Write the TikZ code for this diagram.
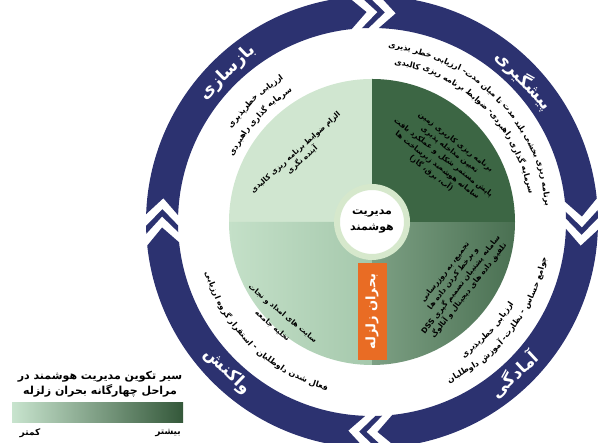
\documentclass[tikz,border=0pt]{standalone}
\usepackage{fontspec}
\TeXXeTstate=1
\newfontfamily\fa[Script=Arabic]{DejaVu Sans}
\usetikzlibrary{calc}
\definecolor{navy}{RGB}{44,50,112}
\definecolor{gTL}{RGB}{208,230,208}
\definecolor{gBLa}{RGB}{196,224,200}
\definecolor{gBLb}{RGB}{165,200,172}
\definecolor{gBRa}{RGB}{125,160,132}
\definecolor{gBRb}{RGB}{74,112,82}
\definecolor{gTR}{RGB}{60,102,68}
\definecolor{orng}{RGB}{233,108,36}
\definecolor{pale}{RGB}{214,232,204}
\definecolor{legL}{RGB}{200,228,206}
\definecolor{legM}{RGB}{160,195,168}
\definecolor{legR}{RGB}{52,88,58}
\newlength\wlen
\newlength\totw
\newlength\spcw
\setlength\spcw{2.8pt}
\newcommand\bt{\fa\bfseries\fontsize{8}{9}\selectfont}
% measure words (outside the picture)
\newcommand\measureline[3]{%
  \global\totw=0pt
  \foreach \wrd [count=\i] in #3 {%
    \settowidth\wlen{#2\wrd}%
    \expandafter\xdef\csname aw@#1@\i\endcsname{\the\wlen}%
    \global\advance\totw by \wlen
    \global\advance\totw by \spcw
  }%
  \global\advance\totw by -\spcw
  \expandafter\xdef\csname at@#1\endcsname{\the\totw}%
}
% place words along an arc, centred on an angle
\newcommand\arcline[6]{%
  \pgfmathsetmacro\startang{#2 - (#3)*(\csname at@#6\endcsname/2)/(#1)*180/pi}%
  \xdef\curang{\startang}%
  \foreach \wrd [count=\i] in #5 {%
    \edef\wwd{\csname aw@#6@\i\endcsname}%
    \pgfmathsetmacro\midang{\curang + (#3)*(\wwd/2)/(#1)*180/pi}%
    \pgfmathsetmacro\wrot{\midang - (#3)*90}%
    \node[inner sep=0pt, rotate=\wrot] (#6\i) at ($(C)+(\midang:#1pt)$) {#4\beginR\wrd\endR};
    \pgfmathsetmacro\nextang{\curang + (#3)*(\wwd+\spcw)/(#1)*180/pi}%
    \xdef\curang{\nextang}%
  }%
}
\newcommand\navyseg[2]{%
  \fill[navy] ($(C)+(#1:226pt)$) arc[start angle=#1,end angle=#2,radius=226pt]
    -- ($(C)+({#2-4.5}:210pt)$) -- ($(C)+(#2:194pt)$)
    arc[start angle=#2,end angle=#1,radius=194pt]
    -- ($(C)+({#1-4.5}:210pt)$) -- cycle;
}
\newcommand\chev[1]{%
  \fill[navy] ($(C)+({#1+3}:226pt)$) -- ($(C)+({#1-1.5}:210pt)$) -- ($(C)+({#1+3}:194pt)$)
    -- ($(C)+({#1+1}:194pt)$) -- ($(C)+({#1-3.5}:210pt)$) -- ($(C)+({#1+1}:226pt)$) -- cycle;
}
\newcommand\Ltro{برنامه,ریزی,بخشی,بلند,مدت,تا,میان,مدت-,ارزیابی,خطر,پذیری}
\newcommand\Ltri{سرمایه,گذاری,راهبردی-,ضوابط,برنامه,ریزی,کالبدی}
\newcommand\Ltlo{ارزیابی,خطرپذیری}
\newcommand\Ltli{سرمایه,گذاری,راهبردی}
\newcommand\Lblo{فعال,شدن,داوطلبان,-,استقرار,گروه,ارزیابی}
\newcommand\Lbro{جوامع,حساس,-,نظارت-,آموزش,داوطلبان}
\newcommand\Lbri{ارزیابی,خطرپذیری}
\begin{document}
\measureline{tro}{\bt}{\Ltro}%
\measureline{tri}{\bt}{\Ltri}%
\measureline{tlo}{\bt}{\Ltlo}%
\measureline{tli}{\bt}{\Ltli}%
\measureline{blo}{\bt}{\Lblo}%
\measureline{bro}{\bt}{\Lbro}%
\measureline{bri}{\bt}{\Lbri}%
\begin{tikzpicture}[x=1pt,y=1pt,
  qtext/.style={inner sep=0pt, align=center, font=\fa\bfseries\fontsize{7.4}{10}\selectfont},
  seglabel/.style={inner sep=0pt, text=white, font=\fa\bfseries\fontsize{17}{20}\selectfont},
  legtext/.style={inner sep=0pt, align=center, font=\fa\bfseries\fontsize{11}{15}\selectfont}]
\useasboundingbox (0,0) rectangle (603,443);
\clip (0,0) rectangle (603,443);
\coordinate (C) at (372,221);
% inner disk
\fill[gTL] (C) -- ($(C)+(90:143pt)$) arc[start angle=90,end angle=180,radius=143pt] -- cycle;
\shade[left color=gBLa,right color=gBLb] (C) -- ($(C)+(180:143pt)$) arc[start angle=180,end angle=270,radius=143pt] -- cycle;
\shade[left color=gBRa,right color=gBRb] (C) -- ($(C)+(270:143pt)$) arc[start angle=270,end angle=360,radius=143pt] -- cycle;
\fill[gTR] (C) -- ($(C)+(0:143pt)$) arc[start angle=0,end angle=90,radius=143pt] -- cycle;
% orange bar
\node[fill=orng, minimum width=97pt, minimum height=29pt, inner sep=0pt, rotate=90, text=white,
  font=\fa\bfseries\fontsize{13}{15}\selectfont] (crisis) at (372,131.5) {\beginR بحران زلزله\endR};
% hub
\node[circle, fill=white, draw=pale, line width=6pt, minimum size=70pt, inner sep=0pt, align=center,
  font=\fa\bfseries\fontsize{11}{16}\selectfont] (hub) at (C) {\beginR مدیریت\endR\\\beginR هوشمند\endR};
% quadrant texts
\node[qtext, rotate=42] (tl) at ($(C)+(138:98pt)$) {\beginR الزام ضوابط برنامه ریزی کالبدی\endR\\\beginR آینده نگری\endR};
\node[qtext, rotate=-38] (tr) at ($(C)+(42:96pt)$) {\beginR برنامه ریزی کاربری زمین\endR\\\beginR تعیین مداخله پذیری\endR\\\beginR پایش مستمر شکل و عملکرد بافت\endR\\\beginR سامانه هوشمند زیرساخت ها\endR\\\beginR (آب، برق، گاز)\endR};
\node[qtext, rotate=52] (br) at ($(C)+(-35:104pt)$) {\beginR تجمیع، به روزرسانی\endR\\\beginR و برخط کردن داده ها\endR\\\beginR سامانه پشتیبان تصمیم گیری \beginL DSS\endL\endR\\\beginR تلفیق داده های دیجیتال و آنالوگ\endR};
\node[qtext, rotate=-40, font=\fa\bfseries\fontsize{7.4}{16}\selectfont] (bl) at ($(C)+(226:136pt)$) {\beginR سایت های امداد و نجات\endR\\\beginR تخلیه جامعه\endR};
% band texts
\arcline{176}{45}{1}{\bt}{\Ltro}{tro}
\arcline{161}{46}{1}{\bt}{\Ltri}{tri}
\arcline{170}{134}{1}{\bt}{\Ltlo}{tlo}
\arcline{155}{138}{1}{\bt}{\Ltli}{tli}
\arcline{172}{226}{-1}{\bt}{\Lblo}{blo}
\arcline{176}{-38}{-1}{\bt}{\Lbro}{bro}
\arcline{161}{-43}{-1}{\bt}{\Lbri}{bri}
% navy ring
\navyseg{88}{6}
\navyseg{-2}{-84}
\navyseg{-92}{-174}
\navyseg{178}{96}
\chev{90}
\chev{0}
\chev{-90}
\chev{180}
\node[seglabel, rotate=44] (s1) at ($(C)+(134:208pt)$) {\beginR بازسازی\endR};
\node[seglabel, rotate=-47] (s2) at ($(C)+(43:208pt)$) {\beginR پیشگیری\endR};
\node[seglabel, rotate=43] (s3) at ($(C)+(-47:208pt)$) {\beginR آمادگی\endR};
\node[seglabel, rotate=-44] (s4) at ($(C)+(-134:208pt)$) {\beginR واکنش\endR};
% legend
\node[legtext] (lt) at (100,59) {\beginR سیر تکوین مدیریت هوشمند در\endR\\\beginR مراحل چهارگانه بحران زلزله\endR};
\node[inner sep=0pt, minimum width=171pt, minimum height=20pt, left color=legL, middle color=legM, right color=legR] (lbar) at (97.5,30) {};
\node[inner sep=0pt, font=\fa\bfseries\fontsize{9}{11}\selectfont] (less) at (30,10) {\beginR کمتر\endR};
\node[inner sep=0pt, font=\fa\bfseries\fontsize{9}{11}\selectfont] (more) at (168,10) {\beginR بیشتر\endR};
\end{tikzpicture}
\end{document}
